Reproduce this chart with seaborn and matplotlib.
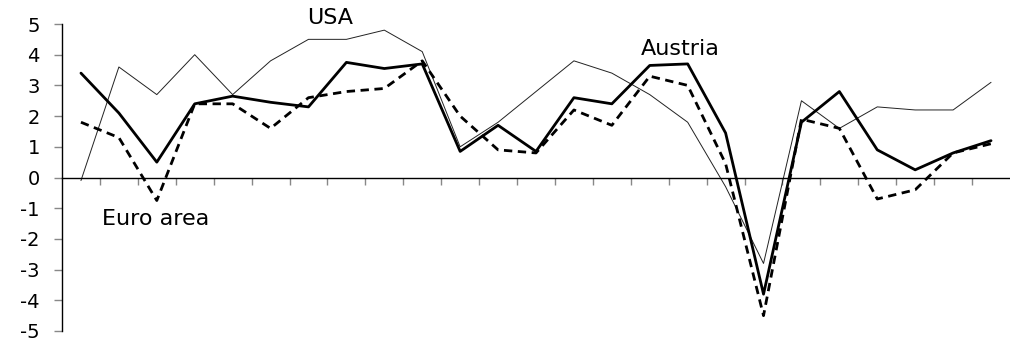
import numpy as np
import pandas as pd
import matplotlib
matplotlib.use("Agg")
import matplotlib.pyplot as plt
import seaborn as sns

years = list(range(1991, 2016))
austria = [3.4, 2.1, 0.5, 2.4, 2.65, 2.45, 2.3, 3.75, 3.55, 3.7, 0.85, 1.7,
           0.85, 2.6, 2.4, 3.65, 3.7, 1.45, -3.8, 1.8, 2.8, 0.9, 0.25, 0.8, 1.2]
euro_area = [1.8, 1.3, -0.75, 2.4, 2.4, 1.6, 2.6, 2.8, 2.9, 3.8, 2.0, 0.9,
             0.8, 2.2, 1.7, 3.3, 3.0, 0.45, -4.5, 1.9, 1.6, -0.7, -0.4, 0.8, 1.1]
usa = [-0.1, 3.6, 2.7, 4.0, 2.7, 3.8, 4.5, 4.5, 4.8, 4.1, 1.0, 1.8,
       2.8, 3.8, 3.4, 2.7, 1.8, -0.3, -2.8, 2.5, 1.6, 2.3, 2.2, 2.2, 3.1]

df = pd.DataFrame({"idx": np.arange(len(years)), "year": years,
                   "Austria": austria, "Euro area": euro_area, "USA": usa})

sns.set_style("white")
plt.rcParams['font.family'] = ['DejaVu Sans']
plt.rcParams['text.color'] = 'black'
plt.rcParams['ytick.color'] = 'black'

fig = plt.figure(figsize=(10.1, 3.47), dpi=100)
ax = fig.add_axes([62 / 1010, 1 - 331 / 347, 1 - 62 / 1010, (331 - 24) / 347])

sns.lineplot(data=df, x="idx", y="USA", ax=ax, color="#222222", linewidth=0.7)
sns.lineplot(data=df, x="idx", y="Euro area", ax=ax, color="black",
             linewidth=2.0, dashes=False, linestyle=(0, (3, 2)))
sns.lineplot(data=df, x="idx", y="Austria", ax=ax, color="black", linewidth=2.0)

ax.set_xlim(-0.5, len(years) - 0.5)
ax.set_ylim(-5, 5)
ax.set_yticks(range(-5, 6))
ax.set_yticklabels([str(v) for v in range(-5, 6)], fontsize=14)
ax.set_xticks(np.arange(0.5, len(years) - 1, 1.0))
ax.set_xticklabels([])
ax.set_xlabel("")
ax.set_ylabel("")

for s in ["top", "right"]:
    ax.spines[s].set_visible(False)
ax.spines["left"].set_color("black")
ax.spines["left"].set_linewidth(1.0)
ax.spines["bottom"].set_position(("data", 0))
ax.spines["bottom"].set_color("black")
ax.spines["bottom"].set_linewidth(1.0)
ax.tick_params(axis="y", left=True, direction="out", length=6, width=1,
               color="#888888", labelcolor="black", pad=10)
ax.tick_params(axis="x", bottom=True, direction="out", length=5, width=1,
               color="#888888")

ax.text(6.57, 5.2, "USA", fontsize=16, ha="center", va="center", clip_on=False)
ax.text(15.8, 4.2, "Austria", fontsize=16, ha="center", va="center")
ax.text(1.98, -1.34, "Euro area", fontsize=16, ha="center", va="center")

fig.savefig("out.png", dpi=100)
